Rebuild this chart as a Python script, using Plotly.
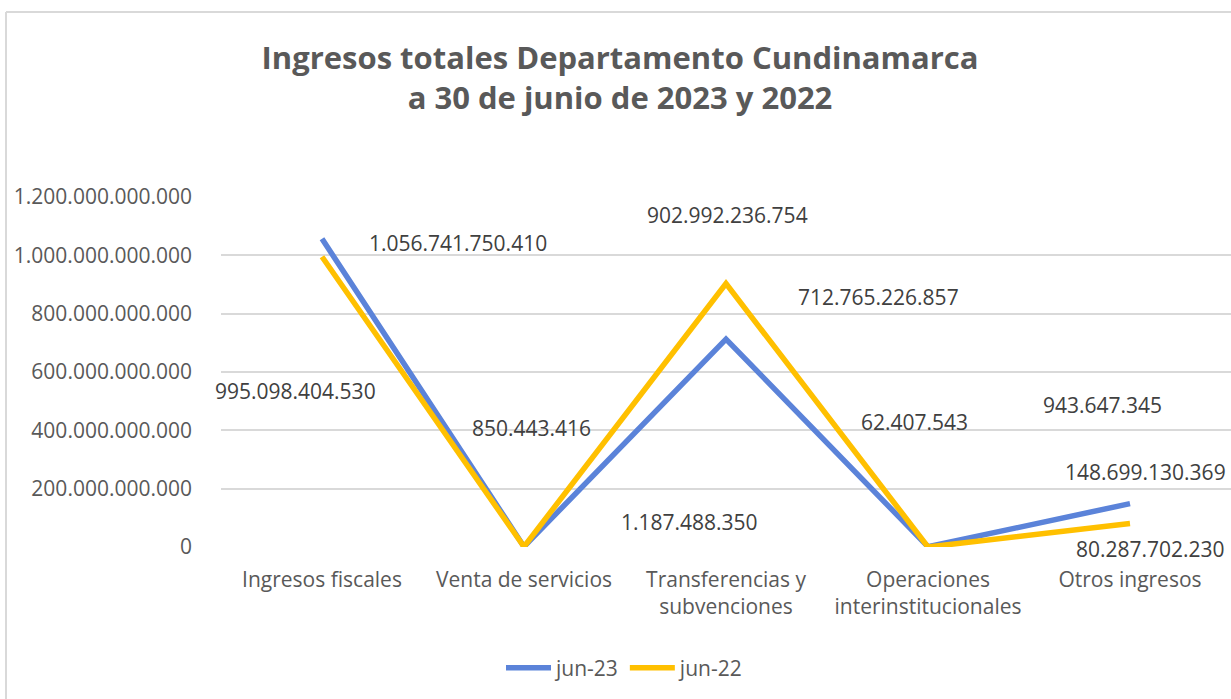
import plotly.graph_objects as go

categorias = ["Ingresos fiscales", "Venta de servicios", "Transferencias y<br>subvenciones",
              "Operaciones<br>interinstitucionales", "Otros ingresos"]
jun_23 = [1056741750410, 1187488350, 712765226857, 943647345, 148699130369]
jun_22 = [995098404530, 850443416, 902992236754, 62407543, 80287702230]

y_ticks = [0, 200e9, 400e9, 600e9, 800e9, 1000e9, 1200e9]
y_tick_text = ["0", "200.000.000.000", "400.000.000.000", "600.000.000.000",
               "800.000.000.000", "1.000.000.000.000", "1.200.000.000.000"]

# label offsets (px) for each point's data label
off_23 = [(136, -4), (165, 25), (152, 42), (174, 142), (15, 32)]
off_22 = [(-27, -134), (7, 119), (1, 69), (-14, 125), (20, -25)]

AZUL = "#5B83D9"
AMARILLO = "#FFC000"
FONT = "Open Sans"


def fmt(v):
    return f"{v:,}".replace(",", ".")


fig = go.Figure()
fig.add_trace(go.Scatter(x=categorias, y=jun_23, mode="lines", name="jun-23",
                         line=dict(color=AZUL, width=5.5)))
fig.add_trace(go.Scatter(x=categorias, y=jun_22, mode="lines", name="jun-22",
                         line=dict(color=AMARILLO, width=5.5)))

for serie, offs in ((jun_23, off_23), (jun_22, off_22)):
    for cat, val, (dx, dy) in zip(categorias, serie, offs):
        fig.add_annotation(x=cat, y=val, text=fmt(val), showarrow=False,
                           xshift=dx, yshift=dy,
                           font=dict(family=FONT, size=21, color="#404040"))

# chart-area border (top and left edges)
fig.add_shape(type="line", xref="paper", yref="paper",
              x0=(6 - 221) / 1010, x1=1.05, y0=(547 - 12) / 350, y1=(547 - 12) / 350,
              line=dict(color="#D9D9D9", width=2))
fig.add_shape(type="line", xref="paper", yref="paper",
              x0=(6 - 221) / 1010, x1=(6 - 221) / 1010, y0=(547 - 12) / 350, y1=-0.5,
              line=dict(color="#D9D9D9", width=2))

fig.update_layout(
    width=1231, height=699,
    margin=dict(l=221, r=0, t=197, b=152),
    paper_bgcolor="white", plot_bgcolor="white",
    title=dict(text="<b>Ingresos totales Departamento Cundinamarca<br>a 30 de junio de 2023 y 2022</b>",
               x=620 / 1231, xanchor="center", xref="container",
               y=1 - 69 / 699, yanchor="top", yref="container",
               font=dict(family=FONT, size=31, color="#595959")),
    xaxis=dict(range=[-0.5, 4.5], showgrid=False, showline=False, zeroline=False,
               ticks="", ticklabelstandoff=18,
               tickfont=dict(family=FONT, size=21, color="#595959")),
    yaxis=dict(range=[0, 1200e9], tickvals=y_ticks, ticktext=y_tick_text,
               showgrid=True, gridcolor="#D9D9D9", gridwidth=1.5,
               zeroline=False, showline=False, ticklabelstandoff=28,
               tickfont=dict(family=FONT, size=21, color="#595959")),
    legend=dict(orientation="h", x=(625 - 221) / 1010, xanchor="center",
                y=(547 - 668) / 350, yanchor="middle", itemwidth=45,
                font=dict(family=FONT, size=21, color="#595959")),
    showlegend=True,
)

fig.write_html("out.html")
